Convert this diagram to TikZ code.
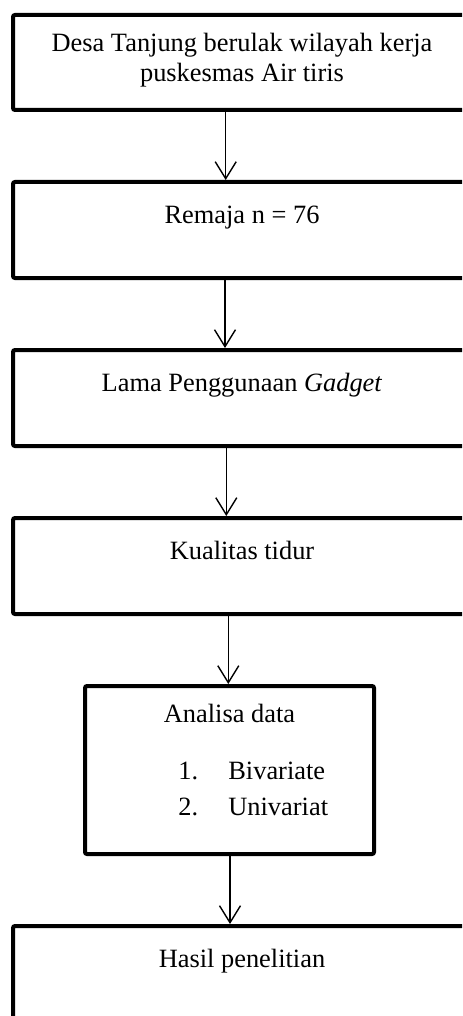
\documentclass[tikz,border=0pt]{standalone}
\usepackage{fontspec}
\setmainfont{Liberation Serif}
\usetikzlibrary{arrows.meta,positioning}

\begin{document}
\begin{tikzpicture}[x=0.5pt,y=-0.5pt]
\tikzstyle{box}=[rectangle,draw=black,line width=2pt,rounded corners=1pt,
inner sep=0pt,minimum width=229pt,minimum height=48pt]
\tikzstyle{txt}=[inner sep=0pt,align=center,font=\fontsize{13.2}{15}\selectfont]
\tikzstyle{arr}=[-{Straight Barb[length=8.5pt,width=10.5pt]},line width=0.7pt]
\useasboundingbox (0,0) rectangle (462,1016);
\clip (0,0) rectangle (462,1016);

\node[box,minimum height=47.5pt] at (242,62.5) (1) {};
\node[box,below=34pt of 1] (2) {};
\node[box,below=34pt of 2] (3) {};
\node[box,below=34pt of 3] (4) {};
\node[box,below=34pt of 4,xshift=-6.25pt,minimum width=144.5pt,minimum height=84pt] (5) {};
\node[box,below=34pt of 5,xshift=6.25pt,minimum height=70pt] (6) {};

% base of a two-line node is its last line
\node[txt,anchor=base] at ([yshift=-34.35pt]1.north) (1t) {Desa Tanjung berulak wilayah kerja\\puskesmas Air tiris};
\node[txt,anchor=base] at ([yshift=-21.75pt]2.north) (2t) {Remaja n = 76};
\node[txt,anchor=base] at ([yshift=-21.75pt]3.north) (3t) {Lama Penggunaan \textit{Gadget}};
\node[txt,anchor=base] at ([yshift=-21.75pt]4.north) (4t) {Kualitas tidur};
\node[txt,anchor=base] at ([yshift=-19pt]5.north) (5t) {Analisa data};
\node[txt,anchor=base west] at ([xshift=-25.75pt,yshift=-47.5pt]5.north) (5l)
{\begin{tabular}[t]{@{}l@{\hspace{15.1pt}}l@{}}1. & Bivariate\\[3pt] 2. & Univariat\end{tabular}};
\node[txt,anchor=base] at ([yshift=-21.75pt]6.north) (6t) {Hasil penelitian};

\path[arr] ([xshift=-8.15pt]1.south) edge ([xshift=-8.15pt]2.north);
\path[arr] ([xshift=-8.5pt]2.south) edge ([xshift=-8.5pt]3.north);
\path[arr] ([xshift=-7.85pt]3.south) edge ([xshift=-7.85pt]4.north);
\path[arr] ([xshift=-0.6pt]5.north |- 4.south) edge ([xshift=-0.6pt]5.north);
\path[arr] ([xshift=0.25pt]5.south) edge ([xshift=0.25pt]5.south |- 6.north);

\end{tikzpicture}
\end{document}
